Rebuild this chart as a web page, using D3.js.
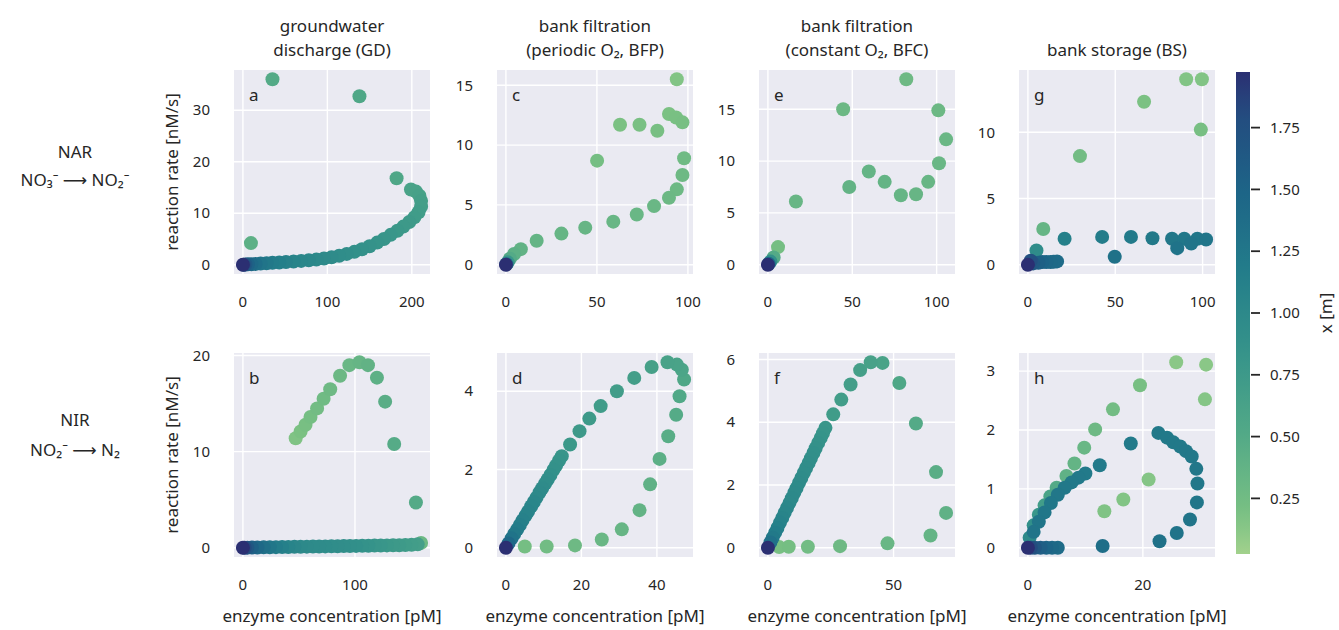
<!DOCTYPE html>
<html>
<head>
<meta charset="utf-8">
<script src="https://cdn.jsdelivr.net/npm/d3@7"></script>
<style>
  body { margin: 0; background: #ffffff; }
  text { font-family: "Noto Sans", "DejaVu Sans", sans-serif; fill: #262626; }
</style>
</head>
<body>
<svg id="chart" width="1339" height="630"></svg>
<script>
// 2x4 grid of scatter panels: reaction rate vs enzyme concentration, coloured by depth x [m].

// each point: [enzyme concentration pM, reaction rate nM/s, x m]
const gdNar = [
  [35, 36.0, 0.5], [138, 32.7, 0.55], [182, 16.8, 0.55], [9.5, 4.2, 0.42],
  [199, 14.6, 0.60], [205, 14.2, 0.62], [209, 13.4, 0.64], [211, 12.4, 0.66],
  [211, 11.3, 0.68], [208, 10.2, 0.70], [203, 9.2, 0.72], [197, 8.3, 0.74],
  [190, 7.4, 0.76], [183, 6.6, 0.78], [175, 5.8, 0.80], [167, 5.0, 0.82],
  [159, 4.3, 0.84], [150, 3.6, 0.86], [141, 3.0, 0.88], [132, 2.5, 0.90],
  [123, 2.1, 0.92], [114, 1.75, 0.94], [105, 1.45, 0.96], [96, 1.2, 0.98],
  [87, 1.0, 1.00], [78, 0.86, 1.02], [69, 0.74, 1.04], [60, 0.63, 1.07],
  [51, 0.53, 1.10], [43, 0.44, 1.14], [35, 0.36, 1.18], [28, 0.29, 1.23],
  [21, 0.22, 1.29], [15, 0.16, 1.36], [10, 0.11, 1.44], [6, 0.07, 1.53],
  [3, 0.04, 1.64], [1, 0.01, 1.78], [0, 0, 1.975]
];
const gdNir = [
  [47.1, 11.4, 0.16], [51.5, 12.1, 0.18], [55.9, 12.8, 0.2], [60.3, 13.6, 0.22],
  [66.2, 14.5, 0.24], [72, 15.5, 0.26], [77.9, 16.5, 0.28], [86.7, 17.9, 0.3],
  [95, 19.0, 0.32], [104, 19.3, 0.35], [111.6, 19.0, 0.38], [119.6, 17.7, 0.42],
  [126.9, 15.2, 0.45], [135, 10.8, 0.48], [154.4, 4.7, 0.5], [159, 0.5, 0.3],
  [156, 0.35, 0.68], [150.5, 0.3, 0.7], [145, 0.28, 0.72], [139.5, 0.26, 0.74],
  [134, 0.25, 0.76], [128.5, 0.24, 0.78], [123, 0.23, 0.8], [117.5, 0.22, 0.82],
  [112, 0.21, 0.85], [106.5, 0.2, 0.87], [101, 0.19, 0.9], [95.5, 0.18, 0.91],
  [90, 0.17, 0.92], [84.5, 0.16, 0.93], [79, 0.15, 0.94], [73.5, 0.14, 0.95],
  [68, 0.13, 0.96], [62.5, 0.12, 0.97], [57, 0.11, 0.98], [51.5, 0.1, 1.0],
  [46, 0.09, 1.03], [40.5, 0.08, 1.07], [35, 0.07, 1.12], [29.5, 0.06, 1.18],
  [24, 0.05, 1.26], [18.5, 0.04, 1.35], [13, 0.03, 1.45], [8, 0.02, 1.55],
  [4, 0.01, 1.68], [1.5, 0.005, 1.82], [0, 0, 1.975]
];
const bfpNar = [
  [93.9, 15.5, 0.15], [89.6, 12.6, 0.18], [93.5, 12.3, 0.19], [97, 11.9, 0.2],
  [83.2, 11.2, 0.2], [73.4, 11.7, 0.19], [62.7, 11.7, 0.18], [50.1, 8.7, 0.22],
  [97.9, 8.9, 0.26], [97, 7.5, 0.28], [93.9, 6.3, 0.29], [89.6, 5.6, 0.3],
  [81.4, 4.9, 0.31], [71.9, 4.2, 0.32], [59, 3.6, 0.33], [43.6, 3.1, 0.34],
  [30.5, 2.6, 0.35], [16.9, 2.0, 0.36], [8.2, 1.3, 0.38], [4.5, 0.9, 0.42],
  [2.2, 0.5, 0.5], [1, 0.2, 0.8], [0.3, 0.05, 1.3], [0, 0, 1.975]
];
const bfpNir = [
  [5.0, 0.03, 0.22], [10.8, 0.03, 0.25], [18.3, 0.06, 0.28], [25.4, 0.21, 0.31],
  [30.7, 0.47, 0.34], [35.4, 0.96, 0.37], [38.2, 1.62, 0.4], [40.7, 2.27, 0.43],
  [43, 2.85, 0.46], [45.1, 3.4, 0.49], [46, 3.87, 0.52], [47.2, 4.3, 0.55],
  [46.6, 4.55, 0.58], [45.3, 4.68, 0.6], [42.8, 4.74, 0.62], [38.6, 4.62, 0.65],
  [34, 4.34, 0.68], [29.4, 4.0, 0.7], [25.1, 3.62, 0.72], [22.1, 3.3, 0.74],
  [19.5, 2.98, 0.76], [17, 2.64, 0.78],
  [14.8, 2.34, 0.82], [14.1, 2.23, 0.84], [13.3, 2.10, 0.86], [12.6, 1.99, 0.88],
  [11.8, 1.86, 0.9], [11.1, 1.75, 0.92], [10.4, 1.64, 0.94], [9.6, 1.52, 0.96],
  [8.9, 1.41, 0.98], [8.1, 1.28, 1.0], [7.4, 1.17, 1.02], [6.7, 1.06, 1.04],
  [5.9, 0.93, 1.06], [5.2, 0.82, 1.08], [4.4, 0.70, 1.1], [3.7, 0.58, 1.13],
  [3.0, 0.47, 1.17], [2.2, 0.35, 1.22], [1.5, 0.24, 1.3], [0.7, 0.11, 1.45],
  [0, 0, 1.975]
];
const bfcNar = [
  [82, 17.9, 0.28], [44.6, 15.0, 0.3], [101, 14.9, 0.3], [105.6, 12.1, 0.31],
  [101.4, 9.8, 0.32], [95, 8.0, 0.33], [87.8, 6.8, 0.34], [78.8, 6.7, 0.35],
  [69.2, 8.0, 0.36], [59.8, 9.0, 0.36], [48.2, 7.5, 0.37], [16.6, 6.1, 0.33],
  [6.0, 1.7, 0.22], [3.4, 0.7, 0.5], [1.5, 0.3, 0.9], [0.5, 0.1, 1.4], [0, 0, 1.975]
];
const bfcNir = [
  [4.5, 0.02, 0.2], [8.3, 0.03, 0.22], [15.9, 0.03, 0.25], [28.7, 0.05, 0.28],
  [47.6, 0.14, 0.32], [64.7, 0.39, 0.36], [70.9, 1.11, 0.4], [66.9, 2.41, 0.45],
  [58.9, 3.96, 0.5], [52.3, 5.25, 0.55], [45.6, 5.89, 0.6], [40.9, 5.91, 0.63],
  [36.7, 5.66, 0.66], [32.9, 5.2, 0.68], [29.2, 4.72, 0.7], [26, 4.25, 0.72],
  [22.9, 3.82, 0.8], [21.9, 3.65, 0.82], [21.0, 3.50, 0.84], [20.0, 3.34, 0.86],
  [19.0, 3.17, 0.88], [18.1, 3.02, 0.9], [17.1, 2.85, 0.91], [16.2, 2.70, 0.92],
  [15.2, 2.54, 0.93], [14.3, 2.39, 0.94], [13.3, 2.22, 0.95], [12.4, 2.07, 0.96],
  [11.4, 1.90, 0.97], [10.5, 1.75, 0.98], [9.5, 1.58, 0.99], [8.6, 1.43, 1.0],
  [7.6, 1.27, 1.02], [6.7, 1.12, 1.04], [5.7, 0.95, 1.06], [4.8, 0.80, 1.09],
  [3.8, 0.63, 1.12], [2.9, 0.48, 1.16], [1.9, 0.32, 1.22], [1.0, 0.17, 1.32],
  [0, 0, 1.975]
];
const bsNar = [
  [90.6, 14.0, 0.15], [99.6, 14.0, 0.15], [66.5, 12.3, 0.18], [99, 10.2, 0.2],
  [29.8, 8.2, 0.24], [8.8, 2.7, 0.35], [4.9, 1.07, 0.95],
  [21, 1.96, 1.12], [42.5, 2.1, 1.18], [59, 2.1, 1.2], [71.3, 2.0, 1.22],
  [82.5, 1.96, 1.24], [85.5, 1.25, 1.3], [89.5, 1.96, 1.25], [93.5, 1.6, 1.28],
  [97, 1.96, 1.26], [102, 1.9, 1.27], [49.7, 0.6, 1.33],
  [16.7, 0.25, 1.4], [14.8, 0.22, 1.42], [12.9, 0.2, 1.44], [10.5, 0.2, 1.46],
  [8.2, 0.2, 1.5], [6, 0.15, 1.55], [3, 0.1, 1.65], [1.6, 0.3, 1.75], [0, 0, 1.975]
];
const bsNir = [
  [25.8, 3.15, 0.12], [31.0, 3.11, 0.12], [30.8, 2.52, 0.14], [19.5, 2.76, 0.2],
  [14.8, 2.35, 0.24], [11.7, 2.01, 0.28], [9.8, 1.70, 0.32], [8.1, 1.43, 0.36],
  [6.7, 1.22, 0.4], [21.0, 1.16, 0.14], [16.6, 0.82, 0.15], [13.3, 0.62, 0.16],
  [5.0, 1.02, 0.5], [3.9, 0.87, 0.6], [2.9, 0.72, 0.7], [1.9, 0.56, 0.8],
  [1.0, 0.38, 0.9], [0.3, 0.17, 1.0],
  [17.9, 1.77, 1.2], [12.5, 1.40, 1.2], [10.0, 1.26, 1.2], [8.8, 1.19, 1.21],
  [7.6, 1.11, 1.22], [6.4, 1.02, 1.23], [5.2, 0.90, 1.24], [4.0, 0.76, 1.25],
  [2.9, 0.6, 1.26], [1.9, 0.44, 1.27], [1.0, 0.27, 1.28],
  [22.7, 1.95, 1.22], [24.2, 1.87, 1.22], [25.3, 1.79, 1.22], [26.5, 1.72, 1.22],
  [27.5, 1.64, 1.23], [28.5, 1.55, 1.23], [29.3, 1.34, 1.24], [29.5, 1.09, 1.25],
  [29.4, 0.77, 1.26], [28.2, 0.48, 1.28], [25.9, 0.25, 1.3], [22.9, 0.11, 1.33],
  [13.0, 0.03, 1.36],
  [5.2, 0, 1.4], [4.2, 0, 1.45], [3.2, 0, 1.5], [2.2, 0, 1.58], [1.2, 0, 1.68],
  [0.5, 0, 1.8], [0, 0, 1.975]
];

// tick values per panel
const gdNarXTicks = [0, 100, 200],  gdNarYTicks = [0, 10, 20, 30];
const gdNirXTicks = [0, 100],       gdNirYTicks = [0, 10, 20];
const bfpNarXTicks = [0, 50, 100],  bfpNarYTicks = [0, 5, 10, 15];
const bfpNirXTicks = [0, 20, 40],   bfpNirYTicks = [0, 2, 4];
const bfcNarXTicks = [0, 50, 100],  bfcNarYTicks = [0, 5, 10, 15];
const bfcNirXTicks = [0, 50],       bfcNirYTicks = [0, 2, 4, 6];
const bsNarXTicks = [0, 50, 100],   bsNarYTicks = [0, 5, 10];
const bsNirXTicks = [0, 20],        bsNirYTicks = [0, 1, 2, 3];

const colTitles = [
  ["groundwater", "discharge (GD)"],
  ["bank filtration", "(periodic O₂, BFP)"],
  ["bank filtration", "(constant O₂, BFC)"],
  ["bank storage (BS)"]
];
const rowLabels = [["NAR", "NO₃⁻ ⟶ NO₂⁻"], ["NIR", "NO₂⁻ ⟶ N₂"]];
const panelLetters = ["a", "b", "c", "d", "e", "f", "g", "h"];
const colorbarTicks = [0.25, 0.5, 0.75, 1.0, 1.25, 1.5, 1.75];
const xRange = [0.025, 1.975];
const crestStops = [0, 1 / 12, 3 / 12, 5 / 12, 7 / 12, 9 / 12, 11 / 12, 1];
const crestColors = ["#a2d18c", "#79c083", "#52a987", "#36948a", "#237d8a", "#1d6587", "#244b7f", "#2b2f72"];

const svg = d3.select("#chart");

const colLeft = [234, 497, 759, 1019];
const rowTop = [70, 353];
const plotW = 196, plotH = 204;
const r = 7;

const color = d3.scaleLinear()
  .domain(crestStops.map(f => xRange[0] + f * (xRange[1] - xRange[0])))
  .range(crestColors)
  .interpolate(d3.interpolateRgb);

const panels = [
  { data: gdNar,  xt: gdNarXTicks,  yt: gdNarYTicks,  col: 0, row: 0 },
  { data: gdNir,  xt: gdNirXTicks,  yt: gdNirYTicks,  col: 0, row: 1 },
  { data: bfpNar, xt: bfpNarXTicks, yt: bfpNarYTicks, col: 1, row: 0 },
  { data: bfpNir, xt: bfpNirXTicks, yt: bfpNirYTicks, col: 1, row: 1 },
  { data: bfcNar, xt: bfcNarXTicks, yt: bfcNarYTicks, col: 2, row: 0 },
  { data: bfcNir, xt: bfcNirXTicks, yt: bfcNirYTicks, col: 2, row: 1 },
  { data: bsNar,  xt: bsNarXTicks,  yt: bsNarYTicks,  col: 3, row: 0 },
  { data: bsNir,  xt: bsNirXTicks,  yt: bsNirYTicks,  col: 3, row: 1 }
];

// matplotlib-style 5% autoscale margins
function padded(vals) {
  const [lo, hi] = d3.extent(vals);
  const pad = (hi - lo) * 0.05;
  return [lo - pad, hi + pad];
}

panels.forEach((p, i) => {
  const g = svg.append("g")
    .attr("transform", `translate(${colLeft[p.col]}, ${rowTop[p.row]})`);

  const x = d3.scaleLinear().domain(padded(p.data.map(d => d[0]))).range([0, plotW]);
  const y = d3.scaleLinear().domain(padded(p.data.map(d => d[1]))).range([plotH, 0]);

  g.append("rect")
    .attr("width", plotW)
    .attr("height", plotH)
    .attr("fill", "#eaeaf2");

  g.selectAll(".gx")
    .data(p.xt)
    .join("line")
    .attr("x1", d => x(d)).attr("x2", d => x(d))
    .attr("y1", 0).attr("y2", plotH)
    .attr("stroke", "#ffffff")
    .attr("stroke-width", 1.4);

  g.selectAll(".gy")
    .data(p.yt)
    .join("line")
    .attr("x1", 0).attr("x2", plotW)
    .attr("y1", d => y(d)).attr("y2", d => y(d))
    .attr("stroke", "#ffffff")
    .attr("stroke-width", 1.4);

  // lowest x drawn first, so the deep points sit on top
  const pts = p.data.slice().sort((a, b) => a[2] - b[2]);
  g.selectAll("circle")
    .data(pts)
    .join("circle")
    .attr("cx", d => x(d[0]))
    .attr("cy", d => y(d[1]))
    .attr("r", r)
    .attr("fill", d => color(d[2]));

  g.append("text")
    .attr("x", 15)
    .attr("y", 31)
    .attr("font-size", 17)
    .text(panelLetters[i]);

  g.selectAll(".xl")
    .data(p.xt)
    .join("text")
    .attr("x", d => x(d))
    .attr("y", plotH + 33)
    .attr("text-anchor", "middle")
    .attr("font-size", 15)
    .text(d => d);

  g.selectAll(".yl")
    .data(p.yt)
    .join("text")
    .attr("x", -24)
    .attr("y", d => y(d))
    .attr("dy", "0.35em")
    .attr("text-anchor", "end")
    .attr("font-size", 15)
    .text(d => d);
});

// column titles, bottom-aligned
colTitles.forEach((lines, c) => {
  const cx = colLeft[c] + plotW / 2;
  lines.forEach((t, k) => {
    svg.append("text")
      .attr("x", cx)
      .attr("y", 56 - (lines.length - 1 - k) * 24)
      .attr("text-anchor", "middle")
      .attr("font-size", 17)
      .text(t);
  });
});

// row labels and y-axis labels
const rowLabelY = [[152, 180], [420, 450]];
rowLabels.forEach((lines, rI) => {
  lines.forEach((t, k) => {
    svg.append("text")
      .attr("x", 75)
      .attr("y", rowLabelY[rI][k])
      .attr("dy", "0.35em")
      .attr("text-anchor", "middle")
      .attr("font-size", 17)
      .text(t);
  });
  svg.append("text")
    .attr("transform", `translate(178, ${rowTop[rI] + plotH / 2}) rotate(-90)`)
    .attr("text-anchor", "middle")
    .attr("font-size", 17)
    .text("reaction rate [nM/s]");
});

// x-axis labels under bottom row
colLeft.forEach(left => {
  svg.append("text")
    .attr("x", left + plotW / 2)
    .attr("y", 622)
    .attr("text-anchor", "middle")
    .attr("font-size", 17)
    .text("enzyme concentration [pM]");
});

// colorbar
const cbX = 1236, cbW = 14, cbTop = 72, cbBottom = 554;
const cbScale = d3.scaleLinear().domain(xRange).range([cbBottom, cbTop]);

const grad = svg.append("defs").append("linearGradient")
  .attr("id", "crest")
  .attr("x1", 0).attr("y1", 1).attr("x2", 0).attr("y2", 0);
grad.selectAll("stop")
  .data(d3.range(0, 1.0001, 0.05))
  .join("stop")
  .attr("offset", d => d)
  .attr("stop-color", d => color(xRange[0] + d * (xRange[1] - xRange[0])));

svg.append("rect")
  .attr("x", cbX).attr("y", cbTop)
  .attr("width", cbW).attr("height", cbBottom - cbTop)
  .attr("fill", "url(#crest)");

const cbAxis = svg.append("g");
cbAxis.selectAll("line")
  .data(colorbarTicks)
  .join("line")
  .attr("x1", cbX + cbW + 1).attr("x2", cbX + cbW + 10)
  .attr("y1", d => cbScale(d)).attr("y2", d => cbScale(d))
  .attr("stroke", "#262626")
  .attr("stroke-width", 1.8);
cbAxis.selectAll("text")
  .data(colorbarTicks)
  .join("text")
  .attr("x", cbX + cbW + 20)
  .attr("y", d => cbScale(d))
  .attr("dy", "0.35em")
  .attr("font-size", 15)
  .text(d3.format(".2f"));

svg.append("text")
  .attr("transform", `translate(1332, ${(cbTop + cbBottom) / 2}) rotate(-90)`)
  .attr("text-anchor", "middle")
  .attr("font-size", 17)
  .text("x [m]");
</script>
</body>
</html>
